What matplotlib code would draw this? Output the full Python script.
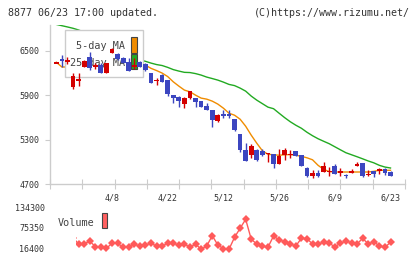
import matplotlib
matplotlib.use("Agg")
import matplotlib.pyplot as plt
import matplotlib.patches as mpatches
import matplotlib.transforms as mtrans
import numpy as np

# ---- data ----
opens = [6330,6384,6355,6013,6090,6283,6410,6280,6310,6203,6475,6451,6400,6345,6290,6345,6320,6195,6090,6170,
         6100,5900,5875,5785,5865,5855,5815,5750,5700,5550,5635,5635,5575,5370,5160,5090,5165,5140,5105,5100,
         4970,5090,5095,5140,5090,4920,4805,4850,4860,4865,4940,4858,4820,4850,4945,4985,4822,4870,4870,4905,4860]
closes = [6335,6357,6365,6162,6113,6365,6262,6310,6205,6329,6525,6388,6340,6230,6300,6285,6245,6065,6100,6080,
          5910,5865,5825,5865,5955,5810,5740,5700,5570,5630,5625,5625,5425,5155,5010,5215,5020,5090,5115,4975,
          5080,5155,5100,5080,4945,4810,4850,4810,4940,4875,4840,4866,4812,4870,4975,4805,4830,4835,4905,4850,4810]
highs = [6335,6442,6415,6194,6194,6370,6487,6330,6330,6335,6530,6470,6420,6400,6400,6355,6330,6200,6135,6190,
         6100,5905,5890,5880,5960,5860,5820,5790,5700,5640,5700,5695,5580,5370,5260,5240,5170,5170,5125,5105,
         5170,5190,5160,5150,5090,4925,4885,4885,5000,4930,4970,4920,4840,4900,5000,4985,4885,4875,4910,4915,4880]
lows = [6330,6283,6316,5977,6026,6280,6245,6250,6200,6200,6470,6380,6330,6225,6250,6275,6225,6060,6036,6075,
        5885,5795,5745,5730,5850,5745,5735,5695,5470,5540,5585,5585,5420,5130,5005,5050,5005,5080,5000,4915,
        4965,5030,5050,5075,4940,4800,4780,4800,4860,4810,4835,4810,4785,4845,4940,4800,4805,4795,4830,4820,4805]
ma5 = [6345,6280,6280,6240,6220,6240,6250,6242,6251,6294,6326,6351,6357,6362,6357,6320,6305,6262,6232,6198,
       6151,6080,6022,5968,5945,5900,5860,5846,5819,5779,5724,5656,5629,5575,5480,5359,5250,5149,5101,5095,
       5088,5095,5097,5088,5074,5054,5027,4952,4898,4867,4862,4862,4862,4862,4862,4862,4862,4871,4885,4885,4885]
ma25 = [6855,6838,6821,6803,6780,6750,6715,6680,6640,6600,6560,6520,6480,6440,6400,6375,6357,6333,6313,6300,
        6275,6245,6225,6208,6205,6191,6171,6144,6124,6103,6076,6045,6029,5995,5954,5887,5832,5785,5738,5717,
        5656,5596,5541,5494,5453,5399,5352,5311,5277,5244,5203,5162,5122,5095,5068,5040,5011,4986,4952,4929,4916]
volume_start = 3  # volume series begins at the 4th session
volumes = [49100,30900,30900,39600,23100,23100,18400,32900,32900,21300,21300,30000,25100,28000,32900,25100,
           25100,32900,32900,28000,30900,21300,30900,15500,25100,55000,28000,17300,15500,50300,76400,102400,
           44500,30900,25100,21300,54100,42500,37600,30900,25100,47400,46500,30900,30900,35800,32900,23100,
           32900,39600,34300,30900,47400,30900,37600,25100,21300,35800]
date_pos = [10, 20, 30, 40, 50, 60]
date_labels = ["4/8", "4/22", "5/12", "5/26", "6/9", "6/23"]
price_ticks = [4700, 5300, 5900, 6500]
vol_ticks = [16400, 75350, 134300]

# ---- layout helpers ----
W, H = 420, 259
def fx(px): return px / W
def fy(py): return 1 - py / H

MONO = "DejaVu Sans Mono"
TXT = "#333333"
GRID = "#cccccc"
RED = "#d40000"
BLUE = "#3c46c0"

fig = plt.figure(figsize=(4.2, 2.59), dpi=100)
fig.patch.set_facecolor("white")

x0, dx = 56.3, 5.57
xmin, xmax = (50 - x0) / dx, (405 - x0) / dx

ax = fig.add_axes([fx(50), fy(184), fx(405) - fx(50), fy(24.8) - fy(184)])
ax.set_xlim(xmin, xmax)
ax.set_ylim(4700, 6850)
for s in ["top", "right"]:
    ax.spines[s].set_visible(False)
for s in ["left", "bottom"]:
    ax.spines[s].set_color(GRID)
    ax.spines[s].set_linewidth(1)
ax.set_yticks(price_ticks)
ax.set_yticklabels([str(v) for v in price_ticks], family=MONO, fontsize=6, color=TXT)
ax.tick_params(axis="y", length=3.6, width=0.8, color=GRID, pad=4)
ax.set_xticks(np.linspace(xmin, xmax, 12))
ax.set_xticklabels([])
ax.tick_params(axis="x", direction="inout", length=6.5, width=0.8, color=GRID)

idx = np.arange(len(opens))
o = np.array(opens); c = np.array(closes)
colors = [RED if cc >= oo else BLUE for oo, cc in zip(opens, closes)]
ax.vlines(idx, lows, highs, colors=colors, linewidth=1, zorder=4)
minh = 20
body_h = np.maximum(np.abs(c - o), minh)
body_b = np.where(np.abs(c - o) < minh, (o + c) / 2 - minh / 2, np.minimum(o, c))
ax.bar(idx, body_h, bottom=body_b, width=0.85, color=colors, linewidth=0, zorder=5)

ax.plot(idx, ma5, color="#f08c00", linewidth=1, zorder=2)
ax.plot(idx, ma25, color="#22aa22", linewidth=1, zorder=2)

# legend box (lines hidden behind it, candles over it)
box = mpatches.Rectangle((fx(65), fy(77.3)), fx(143) - fx(65), fy(30) - fy(77.3),
                         transform=fig.transFigure, facecolor="white", edgecolor=GRID,
                         linewidth=1, zorder=3, clip_on=False)
ax.add_patch(box)
ax.text(fx(125.5), fy(46), "5-day MA", transform=fig.transFigure, ha="right", va="center",
        family=MONO, fontsize=7.3, color="#444444", zorder=3.5)
ax.text(fx(125.5), fy(62.5), "25-day MA", transform=fig.transFigure, ha="right", va="center",
        family=MONO, fontsize=7.3, color="#444444", zorder=3.5)
for (top, bot), col in [((36.7, 52.7), "#f08c00"), ((54, 69.3), "#22aa22")]:
    ax.add_patch(mpatches.Rectangle((fx(131), fy(bot)), fx(137.3) - fx(131), fy(top) - fy(bot),
                                    transform=fig.transFigure, facecolor=col, edgecolor="#444444",
                                    linewidth=0.8, zorder=3.5, clip_on=False))

# date labels
dtrans = mtrans.blended_transform_factory(ax.transData, fig.transFigure)
for p, lab in zip(date_pos, date_labels):
    ax.text(p, fy(198), lab, transform=dtrans, ha="center", va="center",
            family=MONO, fontsize=6, color=TXT)

# ---- volume panel ----
vax = fig.add_axes([fx(76), fy(253), fx(405) - fx(76), fy(205) - fy(253)])
vax.set_xlim((76 - x0) / dx, xmax)
per_px = (134300 - 16400) / (249 - 208.3)
vax.set_ylim(16400 - (253 - 249) * per_px, 134300 + (208.3 - 205) * per_px)
vax.axis("off")
vidx = np.arange(volume_start, volume_start + len(volumes))
vax.plot(vidx, volumes, color="#ff5a5a", linewidth=1, marker="D", markersize=4,
         markeredgewidth=0, zorder=3)
vtrans = mtrans.blended_transform_factory(fig.transFigure, vax.transData)
for v in vol_ticks:
    vax.text(fx(44.5), v, str(v), transform=vtrans, ha="right", va="center",
             family=MONO, fontsize=6, color=TXT)
fig.text(fx(58), fy(222.5), "Volume", ha="left", va="center", family=MONO,
         fontsize=7.3, color="#444444")
fig.patches.append(mpatches.Rectangle((fx(101.7), fy(228.3)), fx(107.3) - fx(101.7),
                                      fy(213.3) - fy(228.3), transform=fig.transFigure,
                                      facecolor="#ff6060", edgecolor="#444444", linewidth=0.8))

# ---- header texts ----
fig.text(fx(8), fy(12.7), "8877 06/23 17:00 updated.", ha="left", va="center",
         family=MONO, fontsize=7.2, color=TXT)
fig.text(fx(410), fy(12.7), "(C)https://www.rizumu.net/", ha="right", va="center",
         family=MONO, fontsize=7.2, color=TXT)

fig.savefig("out.png", dpi=100)
